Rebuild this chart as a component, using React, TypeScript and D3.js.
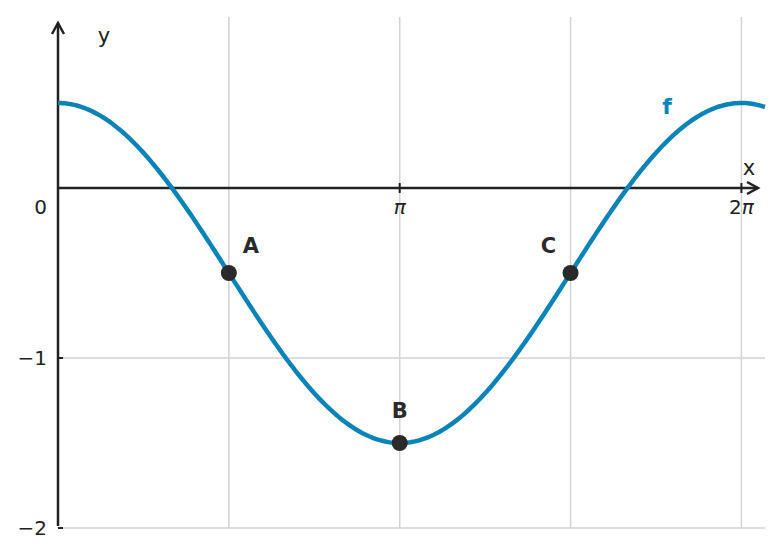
import React from "react";
import * as d3 from "d3";

const W = 783;
const H = 558;
const xDomain = [0, 6.5];
const yDomain = [-2, 1];
const xGridValues = [Math.PI / 2, Math.PI, (3 * Math.PI) / 2, 2 * Math.PI];
const yGridValues = [-1, -2];
const xTickValues = [Math.PI, 2 * Math.PI];
const xTickLabels = ["π", "2π"];
const yTickValues = [-1, -2];
const yTickLabels = ["−1", "−2"];
const pointNames = ["A", "B", "C"];
const pointX = [Math.PI / 2, Math.PI, (3 * Math.PI) / 2];
const pointY = [-0.5, -1.5, -0.5];
const labelDx = [22, 0, -22];
const labelDy = [-20, -25, -20];
const curveSamples = d3.range(0, 6.5001, 0.02);
const f = (x: number) => Math.cos(x) - 0.5;

export default function App() {
  const x = d3.scaleLinear().domain(xDomain).range([58, 765]);
  const y = d3.scaleLinear().domain(yDomain).range([528, 18]);
  const line = d3
    .line<number>()
    .x((d) => x(d))
    .y((d) => y(f(d)))
    .curve(d3.curveLinear);
  const font = "DejaVu Sans, sans-serif";
  const axisColor = "#222";
  const blue = "#0a84b8";
  const y0 = y(0);
  const x0 = x(0);
  return (
    <svg width={W} height={H} style={{ position: "absolute", left: 0, top: 0 }} fontFamily={font}>
      <rect width={W} height={H} fill="#fff" />
      {xGridValues.map((v, i) => (
        <line key={"gx" + i} x1={x(v)} x2={x(v)} y1={17} y2={528} stroke="#d3d3d3" strokeWidth={1.5} />
      ))}
      {yGridValues.map((v, i) => (
        <line key={"gy" + i} x1={x0} x2={765} y1={y(v)} y2={y(v)} stroke="#d3d3d3" strokeWidth={1.5} />
      ))}
      {/* x axis */}
      <line x1={x0} x2={758} y1={y0} y2={y0} stroke={axisColor} strokeWidth={2.5} />
      <path d={`M${747},${y0 - 6} L${758},${y0} L${747},${y0 + 6}`} fill="none" stroke={axisColor} strokeWidth={2.5} />
      {/* y axis */}
      <line x1={x0} x2={x0} y1={526} y2={23} stroke={axisColor} strokeWidth={2.5} />
      <path d={`M${x0 - 6},${34} L${x0},${23} L${x0 + 6},${34}`} fill="none" stroke={axisColor} strokeWidth={2.5} />
      {/* ticks */}
      <line x1={x0} x2={x0 + 5} y1={y0} y2={y0} stroke={axisColor} strokeWidth={2} />
      {xTickValues.map((v, i) => (
        <line key={"tx" + i} x1={x(v)} x2={x(v)} y1={y0 - 5} y2={y0 + 5} stroke={axisColor} strokeWidth={2} />
      ))}
      {yTickValues.map((v, i) => (
        <line key={"ty" + i} x1={x0} x2={x0 + 5} y1={y(v)} y2={y(v)} stroke={axisColor} strokeWidth={2} />
      ))}
      {xTickLabels.map((t, i) => (
        <text key={"lx" + i} x={x(xTickValues[i])} y={y0 + 26} textAnchor="middle" fontSize={20} fill="#222">
          {t.length > 1 ? (
            <>
              {t.slice(0, -1)}
              <tspan fontStyle="italic">π</tspan>
            </>
          ) : (
            <tspan fontStyle="italic">{t}</tspan>
          )}
        </text>
      ))}
      {yTickLabels.map((t, i) => (
        <text key={"ly" + i} x={47} y={y(yTickValues[i]) + 7} textAnchor="end" fontSize={20} fill="#222">
          {t}
        </text>
      ))}
      <text x={47} y={y0 + 26} textAnchor="end" fontSize={20} fill="#222">0</text>
      <text x={104} y={43} textAnchor="middle" fontSize={21} fill="#222">y</text>
      <text x={749} y={175} textAnchor="middle" fontSize={21} fill="#222">x</text>
      {/* curve */}
      <path d={line(curveSamples) || ""} fill="none" stroke={blue} strokeWidth={4.5} strokeLinecap="butt" />
      <text x={667} y={114} textAnchor="middle" fontSize={22} fontWeight="bold" fill={blue}>f</text>
      {pointNames.map((n, i) => (
        <g key={n}>
          <circle cx={x(pointX[i])} cy={y(pointY[i])} r={8} fill="#2a2a2a" />
          <text
            x={x(pointX[i]) + labelDx[i]}
            y={y(pointY[i]) + labelDy[i]}
            textAnchor="middle"
            fontSize={21}
            fontWeight="bold"
            fill="#2a2a2a"
          >
            {n}
          </text>
        </g>
      ))}
    </svg>
  );
}
